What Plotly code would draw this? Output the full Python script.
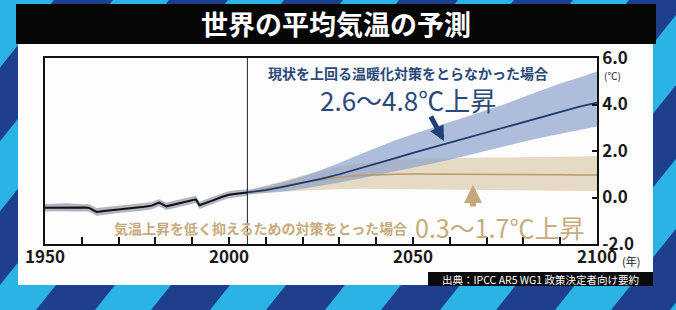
import plotly.graph_objects as go

W, H = 676, 310

# ---------------- data ----------------
hist_years = [1950, 1953, 1956, 1959, 1961, 1962, 1964, 1966, 1968, 1970, 1972, 1975,
              1977, 1979, 1981, 1983, 1985, 1987, 1989, 1991, 1992, 1994, 1996, 1998,
              2000, 2002, 2005]
hist_mid = [-0.44, -0.43, -0.42, -0.44, -0.43, -0.45, -0.62, -0.58, -0.55, -0.51, -0.47, -0.42,
            -0.40, -0.35, -0.22, -0.38, -0.30, -0.22, -0.15, -0.08, -0.33, -0.20, -0.10, 0.02,
            0.12, 0.16, 0.22]
hist_hi = [-0.28, -0.27, -0.25, -0.28, -0.27, -0.29, -0.45, -0.42, -0.39, -0.35, -0.31, -0.26,
           -0.24, -0.19, -0.07, -0.22, -0.15, -0.07, 0.00, 0.07, -0.18, -0.05, 0.05, 0.17,
           0.27, 0.31, 0.36]
hist_lo = [-0.60, -0.59, -0.58, -0.60, -0.59, -0.61, -0.78, -0.74, -0.71, -0.67, -0.63, -0.58,
           -0.56, -0.51, -0.38, -0.54, -0.46, -0.38, -0.31, -0.24, -0.49, -0.36, -0.26, -0.13,
           -0.03, 0.01, 0.08]

proj_years = [2005, 2010, 2015, 2020, 2025, 2030, 2035, 2040, 2045, 2050,
              2055, 2060, 2065, 2070, 2075, 2080, 2085, 2090, 2095, 2100]
high_mid = [0.22, 0.32, 0.47, 0.62, 0.80, 1.00, 1.22, 1.45, 1.68, 1.92,
            2.14, 2.36, 2.58, 2.80, 3.02, 3.25, 3.48, 3.70, 3.90, 4.08]
high_hi = [0.32, 0.48, 0.68, 0.90, 1.18, 1.48, 1.82, 2.15, 2.45, 2.72,
           3.00, 3.25, 3.50, 3.75, 4.02, 4.32, 4.62, 4.90, 5.15, 5.42]
high_lo = [0.12, 0.18, 0.27, 0.38, 0.50, 0.65, 0.80, 0.95, 1.12, 1.28,
           1.45, 1.62, 1.80, 2.00, 2.20, 2.40, 2.58, 2.75, 2.90, 3.05]
low_mid = [0.22, 0.35, 0.50, 0.65, 0.78, 0.88, 0.94, 0.98, 1.00, 1.01,
           1.01, 1.01, 1.00, 1.00, 0.99, 0.99, 0.98, 0.98, 0.97, 0.97]
low_hi = [0.30, 0.50, 0.72, 0.95, 1.15, 1.32, 1.45, 1.55, 1.62, 1.66,
          1.68, 1.70, 1.70, 1.72, 1.72, 1.74, 1.74, 1.75, 1.76, 1.78]
low_lo = [0.14, 0.20, 0.25, 0.30, 0.34, 0.36, 0.38, 0.38, 0.37, 0.36,
          0.35, 0.34, 0.33, 0.32, 0.31, 0.30, 0.30, 0.29, 0.28, 0.28]

x_tickvals = [1950, 1960, 1970, 1980, 1990, 2000, 2010, 2020, 2030, 2040,
              2050, 2060, 2070, 2080, 2090, 2100]
x_ticktext = ["1950", "", "", "", "", "2000", "", "", "", "",
              "2050", "", "", "", "", "2100"]
y_tickvals = [-2, 0, 2, 4, 6]
y_ticktext = ["-2.0", "0.0", "2.0", "4.0", "6.0"]
divider_year = 2005

title_text = "世界の平均気温の予測"
high_label = "現状を上回る温暖化対策をとらなかった場合"
high_range = "2.6～4.8℃上昇"
low_label = "気温上昇を低く抑えるための対策をとった場合"
low_range = "0.3～1.7℃上昇"
source_text = "出典：IPCC AR5 WG1 政策決定者向け要約"

# ---------------- helpers ----------------
def PX(x):
    return x / W

def PY(y):
    return 1 - y / H

FONT = "Noto Sans CJK JP"
NAVY_TXT = "#2a4878"
TAN_TXT = "#c6ab7c"

fig = go.Figure()

def band(xs, lo, hi, color):
    fig.add_trace(go.Scatter(x=list(xs) + list(xs)[::-1], y=list(hi) + list(lo)[::-1],
                             fill="toself", fillcolor=color, line=dict(width=0),
                             mode="lines", hoverinfo="skip", showlegend=False))

band(proj_years, low_lo, low_hi, "rgba(226,212,186,0.85)")
band(proj_years, high_lo, high_hi, "rgba(140,162,203,0.70)")
band(hist_years, hist_lo, hist_hi, "rgba(150,156,170,0.75)")

fig.add_trace(go.Scatter(x=proj_years, y=low_mid, mode="lines",
                         line=dict(color="#b99a68", width=1.6), showlegend=False))
fig.add_trace(go.Scatter(x=proj_years, y=high_mid, mode="lines",
                         line=dict(color="#1d3a6e", width=1.8), showlegend=False))
fig.add_trace(go.Scatter(x=hist_years, y=hist_mid, mode="lines",
                         line=dict(color="#111111", width=2), showlegend=False))

# ---------------- background shapes ----------------
shapes = []
slope = 0.8
period = 115
stripe_w = 56
for k in range(-5, 10):
    x0 = -20 + k * period
    path = "M {a},{b} L {c},{b} L {d},{e} L {f},{e} Z".format(
        a=PX(x0), b=PY(H), c=PX(x0 + stripe_w), d=PX(x0 + stripe_w + slope * H),
        e=PY(0), f=PX(x0 + slope * H))
    shapes.append(dict(type="path", path=path, xref="paper", yref="paper",
                       fillcolor="#2bb3e6", line=dict(width=0), layer="below"))
# white panel
shapes.append(dict(type="rect", xref="paper", yref="paper", x0=PX(18), x1=PX(653),
                   y0=PY(285), y1=PY(44), fillcolor="#fdfdfd", line=dict(width=0), layer="below"))
# title bar
shapes.append(dict(type="rect", xref="paper", yref="paper", x0=PX(16), x1=PX(656),
                   y0=PY(44), y1=PY(4), fillcolor="#060606", line=dict(width=0), layer="below"))
# source box
shapes.append(dict(type="rect", xref="paper", yref="paper", x0=PX(428), x1=PX(653),
                   y0=PY(286), y1=PY(272), fillcolor="#0a0a0a", line=dict(width=0), layer="below"))
# 2005 divider
shapes.append(dict(type="line", xref="x", yref="y domain", x0=divider_year, x1=divider_year,
                   y0=0, y1=1, line=dict(color="#222222", width=1)))

def txt(text, x, y, size, color, bold=False, xanchor="center"):
    f = dict(family=FONT, size=size, color=color)
    if bold:
        f["weight"] = "bold"
    return dict(text=text, x=PX(x), y=PY(y), xref="paper", yref="paper", showarrow=False,
                xanchor=xanchor, yanchor="middle", font=f)

annotations = [
    txt(title_text, 336, 24, 27, "white", bold=True),
    txt(high_label, 408, 73, 14, NAVY_TXT, bold=True),
    txt(high_range, 408, 100, 26, NAVY_TXT),
    txt(low_label, 260, 228, 14, TAN_TXT, bold=True),
    txt(low_range, 499, 227, 25, TAN_TXT),
    txt("(℃)", 602, 75, 10, "#222222", xanchor="left"),
    txt("(年)", 620, 261, 11, "#222222", xanchor="left"),
    txt(source_text, 540, 279, 10.5, "white"),
    # arrows
    dict(text="", x=PX(444), y=PY(141), xref="paper", yref="paper", showarrow=True,
         ax=-14, ay=-26, arrowhead=2, arrowsize=0.6, arrowwidth=5, arrowcolor="#1f3f78",
         standoff=0),
    dict(text="", x=PX(473), y=PY(185), xref="paper", yref="paper", showarrow=True,
         ax=0, ay=23, arrowhead=2, arrowsize=0.6, arrowwidth=6, arrowcolor="#c4a878",
         standoff=0),
]

fig.update_layout(
    width=W, height=H, autosize=False,
    margin=dict(l=0, r=0, t=0, b=0, pad=0, autoexpand=False),
    paper_bgcolor="#1d3f8c", plot_bgcolor="rgba(0,0,0,0)",
    shapes=shapes, annotations=annotations, showlegend=False,
    xaxis=dict(domain=[PX(45), PX(597)], range=[1950, 2100], showgrid=False, zeroline=False,
               automargin=False, ticklabelstandoff=-3,
               showline=True, linecolor="#111111", linewidth=1.5, mirror=True,
               tickmode="array", tickvals=x_tickvals, ticktext=x_ticktext,
               ticks="inside", ticklen=7, tickwidth=1.5, tickcolor="#111111",
               tickfont=dict(family=FONT, size=17, color="#1a1a1a", weight="bold")),
    yaxis=dict(domain=[PY(244), PY(58)], range=[-2, 6], side="right", showgrid=False,
               automargin=False,
               zeroline=False, showline=True, linecolor="#111111", linewidth=1.5, mirror=True,
               tickmode="array", tickvals=y_tickvals, ticktext=y_ticktext,
               ticks="inside", ticklen=5, tickwidth=1.5, tickcolor="#111111",
               tickfont=dict(family=FONT, size=17, color="#1a1a1a", weight="bold")),
)

fig.write_html("out.html")
